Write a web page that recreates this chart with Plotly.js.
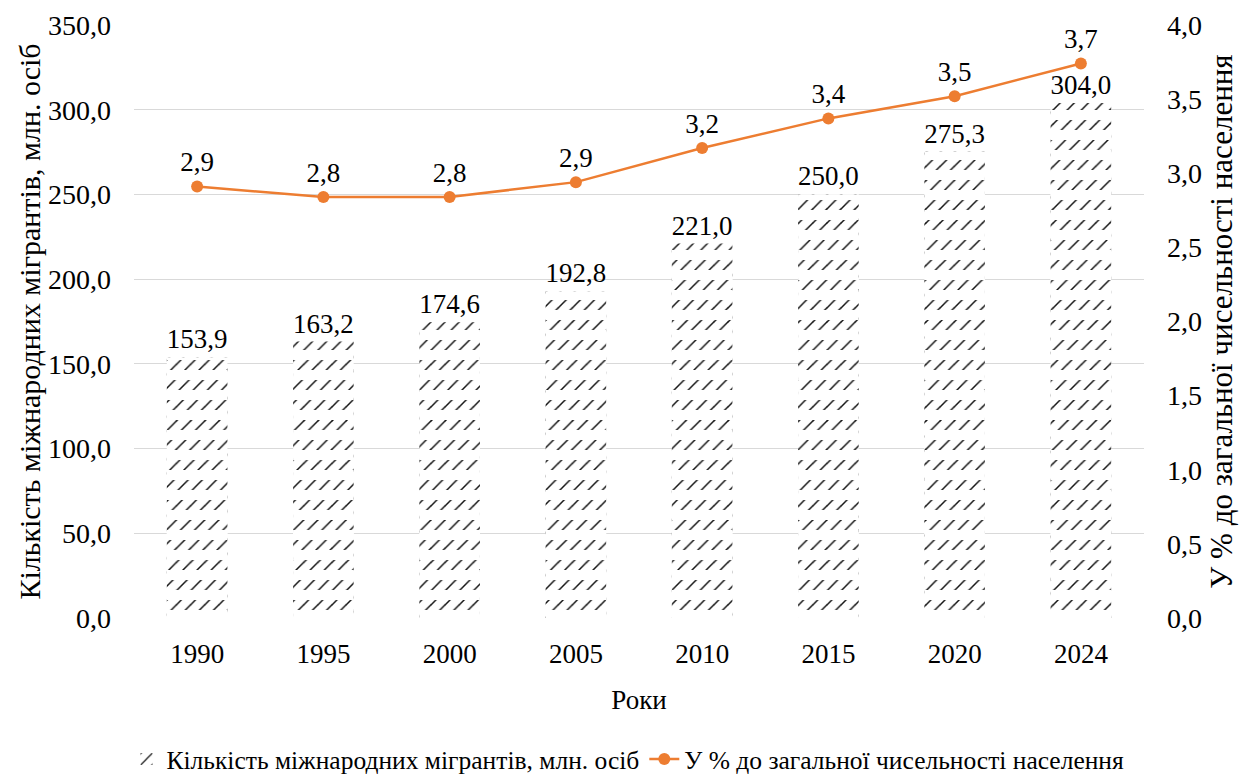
<!DOCTYPE html>
<html>
<head>
<meta charset="utf-8">
<script src="https://cdn.plot.ly/plotly-3.0.1.min.js"></script>
<style>html,body{margin:0;padding:0;background:#fff;}#chart{width:1256px;height:783px;}</style>
</head>
<body>
<div id="chart"></div>
<script>
const years = ['1990', '1995', '2000', '2005', '2010', '2015', '2020', '2024'];
const migrants = [153.9, 163.2, 174.6, 192.8, 221.0, 250.0, 275.3, 304.0];
const sharePct = [2.91, 2.84, 2.84, 2.94, 3.17, 3.37, 3.52, 3.74];
const leftTicks = [0, 50, 100, 150, 200, 250, 300, 350];
const rightTicks = [0, 0.5, 1, 1.5, 2, 2.5, 3, 3.5, 4];

const FONT = "'Liberation Serif', 'Times New Roman', serif";
const ORANGE = '#ED7D31';

const traces = [
  {
    type: 'bar', x: years, y: migrants, name: 'Кількість міжнародних мігрантів, млн. осіб',
    marker: {color: 'white', line: {width: 0},
      pattern: {shape: '/', fgcolor: '#111', bgcolor: 'white', size: 10, solidity: 0.15}},
    texttemplate: '%{y:.1f}', textposition: 'outside', cliponaxis: false,
    textfont: {family: FONT, size: 27, color: '#000'}, hoverinfo: 'skip'
  },
  {
    type: 'bar', x: years, y: migrants, showlegend: false,
    marker: {color: 'rgba(0,0,0,0)', line: {width: 0},
      pattern: {shape: '-', fgcolor: 'white', bgcolor: 'rgba(0,0,0,0)', size: 20, solidity: 0.5}},
    hoverinfo: 'skip'
  },
  {
    type: 'scatter', mode: 'lines+markers+text', x: years, y: sharePct, yaxis: 'y2',
    name: 'У % до загальної чисельності населення',
    line: {color: ORANGE, width: 2.5}, marker: {color: ORANGE, size: 12},
    texttemplate: '%{y:.1f}', textposition: 'top center', cliponaxis: false,
    textfont: {family: FONT, size: 27, color: '#000'}, hoverinfo: 'skip'
  }
];

const layout = {
  width: 1256, height: 783,
  margin: {l: 134, r: 112, t: 25, b: 165},
  paper_bgcolor: 'white', plot_bgcolor: 'white',
  separators: ', ',
  font: {family: FONT, size: 27, color: '#000'},
  barmode: 'overlay', bargap: 0.52,
  showlegend: true,
  legend: {orientation: 'h', x: 0.5, xanchor: 'center', xref: 'container',
    y: 0, yanchor: 'bottom', yref: 'container',
    font: {family: FONT, size: 25.5, color: '#000'}, traceorder: 'normal'},
  xaxis: {type: 'category', showgrid: false, zeroline: false, showline: false, ticks: '',
    tickfont: {family: FONT, size: 27}, automargin: false, ticklabelstandoff: 17,
    title: {text: 'Роки', font: {family: FONT, size: 27}}},
  yaxis: {range: [0, 350], tickvals: leftTicks, tickformat: '.1f', showgrid: true,
    gridcolor: '#d9d9d9', gridwidth: 1, zeroline: false, showline: false, ticks: '',
    tickfont: {family: FONT, size: 28}, automargin: false, ticklabelstandoff: 22,
    title: {text: 'Кількість міжнародних мігрантів, млн. осіб', font: {family: FONT, size: 30}}},
  yaxis2: {range: [0, 4], tickvals: rightTicks, tickformat: '.1f', overlaying: 'y', side: 'right',
    showgrid: false, zeroline: false, showline: false, ticks: '',
    tickfont: {family: FONT, size: 28}, automargin: false, ticklabelstandoff: 22,
    title: {text: 'У % до загальної чисельності населення', font: {family: FONT, size: 31}}}
};

Plotly.newPlot('chart', traces, layout, {displayModeBar: false, staticPlot: true});
</script>
</body>
</html>
